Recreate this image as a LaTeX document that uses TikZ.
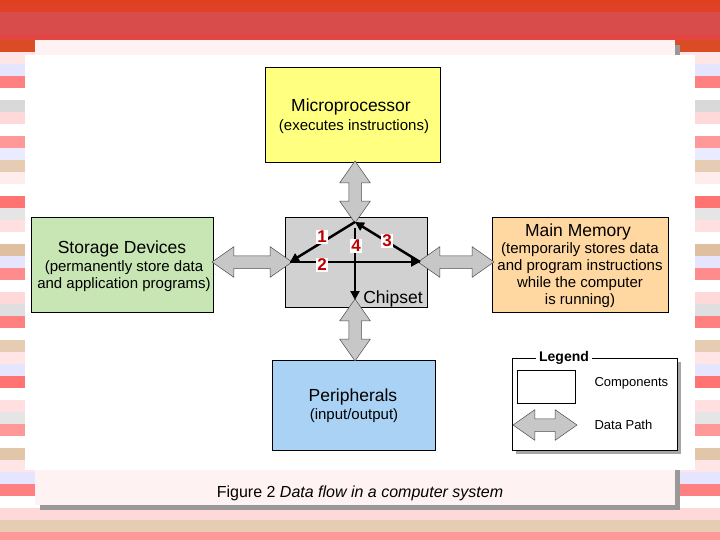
\documentclass[tikz,border=0pt]{standalone}
\usepackage{fontspec}
\setmainfont{Liberation Sans}
\usetikzlibrary{shapes.arrows,arrows.meta}
\definecolor{pblue}{RGB}{170,210,245}
\definecolor{sgreen}{RGB}{200,230,180}
\definecolor{morange}{RGB}{255,215,160}
\definecolor{myellow}{RGB}{255,255,128}
\begin{document}
\begin{tikzpicture}[x=1pt,y=-1pt,
  box/.style={draw=black,line width=0.6pt,anchor=north west,inner sep=0pt,align=center},
  fat/.style={double arrow,draw=black!70,fill=black!22,line width=0.5pt,minimum width=30pt,inner sep=6pt,double arrow head extend=9pt,double arrow tip angle=70},
  flow/.style={line width=2.5pt,-{Triangle[length=9pt,width=9pt]}},
  num/.style={fill=white,inner sep=1pt,text=red!75!black,font=\bfseries\fontsize{17}{17}\selectfont},
  big/.style={font=\fontsize{17.5}{20}\selectfont},
  small/.style={font=\fontsize{15}{17}\selectfont,align=center}]
\useasboundingbox (0,0) rectangle (720,540);
% background
\foreach \y/\c in {40/brown!60!red,52/pink!40,64/blue!10,76/red!50,88/white,100/gray!30,112/pink!60,124/white,136/red!40,148/blue!8,160/brown!40,172/pink!30,184/white,196/red!55,208/gray!20,220/pink!50,232/white,244/brown!50,256/blue!10,268/red!45,280/white,292/pink!60,304/gray!25,316/red!50,328/white,340/brown!40,352/pink!40,364/blue!10,376/red!55,388/white,400/pink!50,412/gray!20,424/red!40,436/white,448/brown!45,460/pink!40,472/blue!10,484/red!50,496/white,508/pink!60,520/brown!40,532/red!40}
  \fill[\c] (0,\y) rectangle (720,\y+12);
\shade[top color=red!50!brown,bottom color=red!70!white!90!black] (0,0) rectangle (720,40);
\fill[red!65!white!85!black] (0,12) rectangle (720,35);
\fill[black!40] (40,45) rectangle (680,510);
\fill[white!95!red] (35,40) rectangle (675,505);
\fill[white] (25,55) rectangle (695,470);
% boxes
\node[box,fill=myellow,minimum width=175pt,minimum height=95pt] (mp) at (265,67) {};
\node[big] (mpt) at (351,107) {Microprocessor};
\node[small] (mps) at (354,127) {(executes instructions)};
\node[box,fill=sgreen,minimum width=182pt,minimum height=95pt] (st) at (31,217) {};
\node[big] (stt) at (122,249) {Storage Devices};
\node[small] (sts) at (124,276) {(permanently store data\\and application programs)};
\node[box,fill=black!18,minimum width=142pt,minimum height=90pt] (cs) at (285,217) {};
\node[big] (cst) at (393,299) {Chipset};
\node[box,fill=morange,minimum width=176pt,minimum height=95pt] (mm) at (492,217) {};
\node[big] (mmt) at (578,232) {Main Memory};
\node[small] (mms) at (580,275) {(temporarily stores data\\and program instructions\\while the computer\\is running)};
\node[box,fill=pblue,minimum width=163pt,minimum height=90pt] (pp) at (272,360) {};
\node[big] (ppt) at (353,397) {Peripherals};
\node[small] (pps) at (354,416) {(input/output)};
% fat arrows
\node[fat,minimum height=62pt,rotate=90] (a1) at (355,192) {};
\node[fat,minimum height=62pt,rotate=90] (a2) at (355,330) {};
\node[fat,minimum height=80pt] (a3) at (252,262) {};
\node[fat,minimum height=76pt] (a4) at (456,262) {};
% internal
\coordinate (T) at (355,222); \coordinate (L) at (290,262);
\coordinate (R) at (420,262); \coordinate (B) at (355,300);
\coordinate (T4) at (355,228);
\draw[flow] (T) -- (L);
\draw[flow] (L) -- (R);
\draw[flow] (R) -- (T);
\draw[flow] (T4) -- (B);
\node[num] (n1) at (322,237) {1};
\node[num] (n2) at (322,265) {2};
\node[num] (n3) at (387,241) {3};
\node[num] (n4) at (356,246) {4};
% legend
\fill[black!35] (516,362) rectangle (681,454);
\node[draw=black,line width=0.6pt,fill=white,anchor=north west,minimum width=165pt,minimum height=92pt,inner sep=0] (lg) at (512,358) {};
\node[fill=white,font=\bfseries\fontsize{14}{15}\selectfont,inner sep=3pt] (lgt) at (564,358) {Legend};
\node[draw=black,line width=0.6pt,fill=white,anchor=north west,minimum width=58pt,minimum height=33pt,inner sep=0] (lc) at (517,370) {};
\node[font=\fontsize{13}{15}\selectfont,anchor=west] (lct) at (591,383) {Components};
\node[fat,minimum height=64pt] (la) at (545,425) {};
\node[font=\fontsize{13}{15}\selectfont,anchor=west] (lat) at (591,425) {Data Path};
% caption
\node[font=\fontsize{16}{18}\selectfont] (cap) at (360,493) {Figure 2 \textit{Data flow in a computer system}};
\end{tikzpicture}
\end{document}
